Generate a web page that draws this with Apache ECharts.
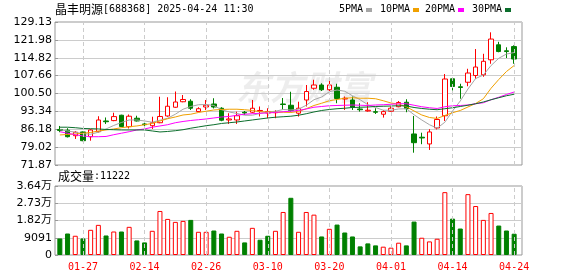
<!DOCTYPE html>
<html><head><meta charset="utf-8">
<script src="https://cdn.jsdelivr.net/npm/echarts@6/dist/echarts.min.js"></script>
<style>html,body{margin:0;padding:0;background:#fff}#c{width:578px;height:276px}</style>
</head><body><div id="c"></div>
<script>
const dates = ['01-22','01-23','01-24','01-27',
 '02-05','02-06','02-07','02-10','02-11','02-12','02-13','02-14','02-17','02-18','02-19','02-20','02-21','02-24','02-25','02-26','02-27','02-28',
 '03-03','03-04','03-05','03-06','03-07','03-10','03-11','03-12','03-13','03-14','03-17','03-18','03-19','03-20','03-21','03-24','03-25','03-26','03-27','03-28','03-31',
 '04-01','04-02','04-03','04-07','04-08','04-09','04-10','04-11','04-14','04-15','04-16','04-17','04-18','04-21','04-22','04-23','04-24'];
const open  = [86.1,85.8,83.6,85.1,83.2,85.2,89.5,89.65,91.8,87.2,90.6,88.3,87.6,88.8,91.5,95.0,97.2,97.4,93.3,95.1,96.3,94.6,89.9,89.9,93.0,93.0,93.5,92.7,92.8,96.3,95.8,92.6,97.9,102.6,103.9,102.0,103.0,98.3,97.9,94.3,93.5,93.2,92.2,93.4,95.2,97.0,84.3,83.0,80.3,86.7,91.6,106.4,103.2,105.0,107.7,108.0,114.0,120.0,117.6,119.3];
const close = [85.7,83.2,85.0,81.6,85.9,89.9,89.2,91.25,87.3,91.4,89.5,88.0,88.8,91.3,95.4,97.1,98.1,94.6,94.4,95.8,95.1,89.8,90.3,91.6,92.7,94.6,93.7,93.3,93.0,96.1,93.7,94.6,101.3,103.9,102.0,103.9,98.5,98.6,95.0,94.0,93.8,93.0,93.25,94.6,96.9,94.4,80.8,82.7,85.1,90.1,106.3,103.3,102.9,108.7,111.1,113.4,122.3,117.3,117.3,114.3];
const low   = [85.0,82.9,82.3,81.4,81.6,84.9,88.3,89.4,87.0,86.5,89.3,87.3,86.3,88.6,91.2,94.8,97.0,93.9,93.0,93.9,94.5,89.4,88.3,88.3,91.9,92.6,91.3,90.6,90.6,94.0,93.2,91.25,95.3,102.0,101.5,101.5,96.6,93.9,93.9,93.25,93.25,92.3,90.85,93.2,95.0,93.0,76.8,80.2,77.9,86.1,89.5,101.7,98.4,103.4,106.4,107.2,112.4,117.0,114.7,112.4];
const high  = [87.5,86.6,85.4,85.3,86.2,91.4,90.9,92.8,92.0,92.1,91.6,89.0,91.2,99.2,99.0,101.3,99.9,98.2,95.0,97.9,98.6,95.0,92.6,93.2,93.5,97.9,95.3,94.6,93.8,98.7,101.2,97.2,103.9,106.0,104.6,107.0,104.4,99.3,99.3,96.6,97.0,94.6,93.9,95.3,97.5,98.2,91.5,84.8,86.2,91.3,108.3,106.6,104.4,110.4,118.3,116.4,125.0,121.2,119.0,119.8];
const ma5  = [86.0,85.5,85.0,84.4,84.2,85.0,86.3,87.7,88.9,89.9,89.9,89.5,89.0,89.8,90.6,92.2,94.2,95.3,96.0,96.1,95.7,94.0,93.1,92.5,91.8,91.8,92.5,93.1,93.4,94.1,93.9,94.2,95.8,98.0,99.1,101.2,101.9,101.4,99.6,98.0,96.0,94.9,93.8,93.8,94.3,94.4,92.0,89.9,88.0,86.6,89.0,93.5,97.5,102.3,106.5,107.9,111.7,114.6,116.3,116.9];
const ma10 = [83.9,84.1,84.3,84.6,84.9,85.5,85.9,86.3,86.8,87.2,87.5,88.0,88.5,89.5,90.4,91.1,91.9,92.2,92.9,93.4,93.9,94.1,94.2,94.2,94.0,93.7,93.2,93.1,92.9,93.0,92.9,93.3,94.4,95.7,96.6,97.6,98.1,98.6,98.8,98.6,98.6,98.4,97.6,96.7,96.2,95.2,93.5,91.9,90.9,90.5,91.7,92.8,93.7,95.1,96.5,98.4,102.6,106.1,109.3,111.7];
const ma20 = [85.2,84.6,84.0,83.5,83.2,83.2,83.3,84.0,84.6,85.2,85.9,86.3,87.0,87.5,88.0,88.8,89.3,89.7,90.0,90.3,90.7,91.1,91.3,91.8,92.2,92.4,92.6,92.7,92.9,93.2,93.4,93.7,94.3,95.0,95.3,95.6,95.7,95.8,95.9,95.8,95.7,95.9,96.0,96.2,96.4,96.4,95.8,95.2,94.8,94.5,95.2,95.6,95.7,95.9,96.4,96.8,98.0,99.0,100.1,101.1];
const ma30 = [87.0,87.0,86.8,86.5,86.4,86.3,86.1,86.0,85.9,85.9,85.9,85.9,85.5,85.1,85.3,85.6,86.0,86.6,87.1,87.6,88.0,88.5,88.8,89.1,89.5,89.9,90.3,90.7,91.0,91.2,91.4,91.8,92.4,93.1,93.7,94.1,94.4,94.6,94.9,95.0,95.1,95.3,95.4,95.5,95.6,95.5,94.9,94.5,94.2,94.0,94.4,94.8,95.3,95.8,96.4,97.1,98.0,98.8,99.6,100.2];
const volume = [8726,11338,10137,8726,13271,15884,10293,12383,12383,14839,7681,6636,12749,23199,19019,17451,17974,18497,12227,12227,12906,11338,9614,12749,6636,14317,8047,10137,12749,22677,30148,12227,22677,21266,9771,13794,16041,11861,9771,4546,6113,5068,4389,3867,6479,5068,17608,9092,7158,8569,33127,19176,13951,32082,25812,18497,22154,15518,12906,11222];
const volDir = ['g','g','r','g','r','r','g','r','g','r', 'g','g','r','r','r','r','r','g','r','r', 'g','g','r','r','g','r','g','g','r','r', 'g','r','r','r','g','r','g','g','g','g', 'g','g','r','r','r','g','g','r','r','r', 'r','g','g','r','r','r','r','g','g','g'];
const priceTicks = ['71.87','79.02','86.18','93.34','100.50','107.66','114.82','121.98','129.13'];
const volTicks = ['0','9091','1.82万','2.73万','3.64万'];
const labelDates = ['01-27','02-14','02-26','03-10','03-20','04-01','04-14','04-24'];
const maNames = ['5PMA','10PMA','20PMA','30PMA'];
const maColors = ['#a6a6a6','#f0a000','#ff00ff','#0b6e2c'];
const priceMin = 71.87, priceMax = 129.13, volMax = 36364;

const RED = '#ff0000', GREEN = '#008000';
const chart = echarts.init(document.getElementById('c'), null, {renderer: 'canvas'});
const lblFont = {fontFamily: 'DejaVu Sans, Noto Sans CJK SC', fontSize: 11, color: '#000'};
const vline = {
  silent: true, symbol: 'none', label: {show: false}, animation: false,
  lineStyle: {color: '#cccccc', type: [4, 3], width: 1},
  emphasis: {disabled: true},
  data: labelDates.map(d => ({xAxis: d}))
};
function frameY(gi, ticks) {
  return {type: 'category', gridIndex: gi, data: ticks, boundaryGap: false,
    axisLine: {show: false}, axisTick: {show: true, inside: true, length: 3, lineStyle: {color: '#999'}},
    axisLabel: Object.assign({margin: 3, interval: 0}, lblFont),
    splitLine: {show: true, interval: 0, lineStyle: {color: '#cccccc', width: 1}}};
}
const mas = [ma5, ma10, ma20, ma30];
const maSeries = maNames.map((n, k) => ({name: n, type: 'line', xAxisIndex: 1, yAxisIndex: 1, data: mas[k],
  showSymbol: false, symbol: 'none', lineStyle: {color: maColors[k], width: 1}, itemStyle: {color: maColors[k]}, z: 3, silent: true}));

// header legend: text followed by a small colour square
const legendX = [339, 380, 425, 472];
const legendGraphics = [];
maNames.forEach((n, k) => {
  legendGraphics.push({type: 'text', left: legendX[k], top: 4, z: 10, silent: true,
    style: {text: n, font: '10px "DejaVu Sans Mono"', fill: '#000'}});
  legendGraphics.push({type: 'rect', left: legendX[k] + n.length * 6 + 3, top: 8, z: 10, silent: true,
    shape: {width: 6, height: 4}, style: {fill: maColors[k]}});
});

chart.setOption({
  animation: false,
  backgroundColor: '#fff',
  grid: [
    {left: 55, top: 22, width: 467, height: 143, show: true, borderColor: '#999', borderWidth: 1},
    {left: 56, top: 22, width: 462, height: 143},
    {left: 55, top: 186, width: 467, height: 69, show: true, borderColor: '#999', borderWidth: 1},
    {left: 56, top: 186, width: 462, height: 69}
  ],
  xAxis: [
    {type: 'value', gridIndex: 0, show: false, min: 0, max: 1},
    {type: 'category', gridIndex: 1, data: dates, boundaryGap: true, axisLine: {show: false}, axisTick: {show: false}, axisLabel: {show: false}, splitLine: {show: false}},
    {type: 'value', gridIndex: 2, show: false, min: 0, max: 1},
    {type: 'category', gridIndex: 3, data: dates, boundaryGap: true, axisLine: {show: false}, axisTick: {show: false},
      axisLabel: {show: true, interval: (i, v) => labelDates.includes(v), color: RED, fontFamily: 'DejaVu Sans Mono', fontSize: 10, margin: 7},
      splitLine: {show: false}}
  ],
  yAxis: [
    frameY(0, priceTicks),
    {type: 'value', gridIndex: 1, min: priceMin, max: priceMax, show: false, splitLine: {show: false}},
    frameY(2, volTicks),
    {type: 'value', gridIndex: 3, min: 0, max: volMax, show: false, splitLine: {show: false}}
  ],
  graphic: [
    {type: 'text', left: 236, top: 70, z: 0, silent: true,
      style: {text: '东方财富', font: 'italic bold 34px "Noto Sans CJK SC"', fill: 'rgba(0,0,0,0.07)'}},
    {type: 'text', left: 55, top: 3, z: 10, silent: true,
      style: {text: '{a|晶丰明源}{b|[688368] 2025-04-24 11:30}',
        rich: {a: {fontFamily: 'Noto Sans CJK SC', fontSize: 12, fill: '#000'}, b: {fontFamily: 'DejaVu Sans Mono', fontSize: 10, fill: '#000'}}}},
    {type: 'text', left: 58, top: 170, z: 10, silent: true,
      style: {text: '{a|成交量}{b|:' + volume[volume.length - 1] + '}',
        rich: {a: {fontFamily: 'Noto Sans CJK SC', fontSize: 12, fill: '#000'}, b: {fontFamily: 'DejaVu Sans Mono', fontSize: 10, fill: '#000'}}}},
    ...legendGraphics
  ],
  series: [
    {type: 'candlestick', name: 'K', xAxisIndex: 1, yAxisIndex: 1, barWidth: 5, silent: true,
      data: dates.map((d, i) => [open[i], close[i], low[i], high[i]]),
      itemStyle: {color: '#ffffff', color0: GREEN, borderColor: RED, borderColor0: GREEN, borderWidth: 1},
      markLine: vline},
    ...maSeries,
    {type: 'bar', name: 'VOL', xAxisIndex: 3, yAxisIndex: 3, barWidth: 5, silent: true,
      data: volume.map((v, i) => ({value: v, itemStyle: volDir[i] === 'r'
        ? {color: '#ffffff', borderColor: RED, borderWidth: 1}
        : {color: GREEN, borderColor: GREEN, borderWidth: 1}})),
      markLine: vline}
  ]
});
</script>
</body></html>
